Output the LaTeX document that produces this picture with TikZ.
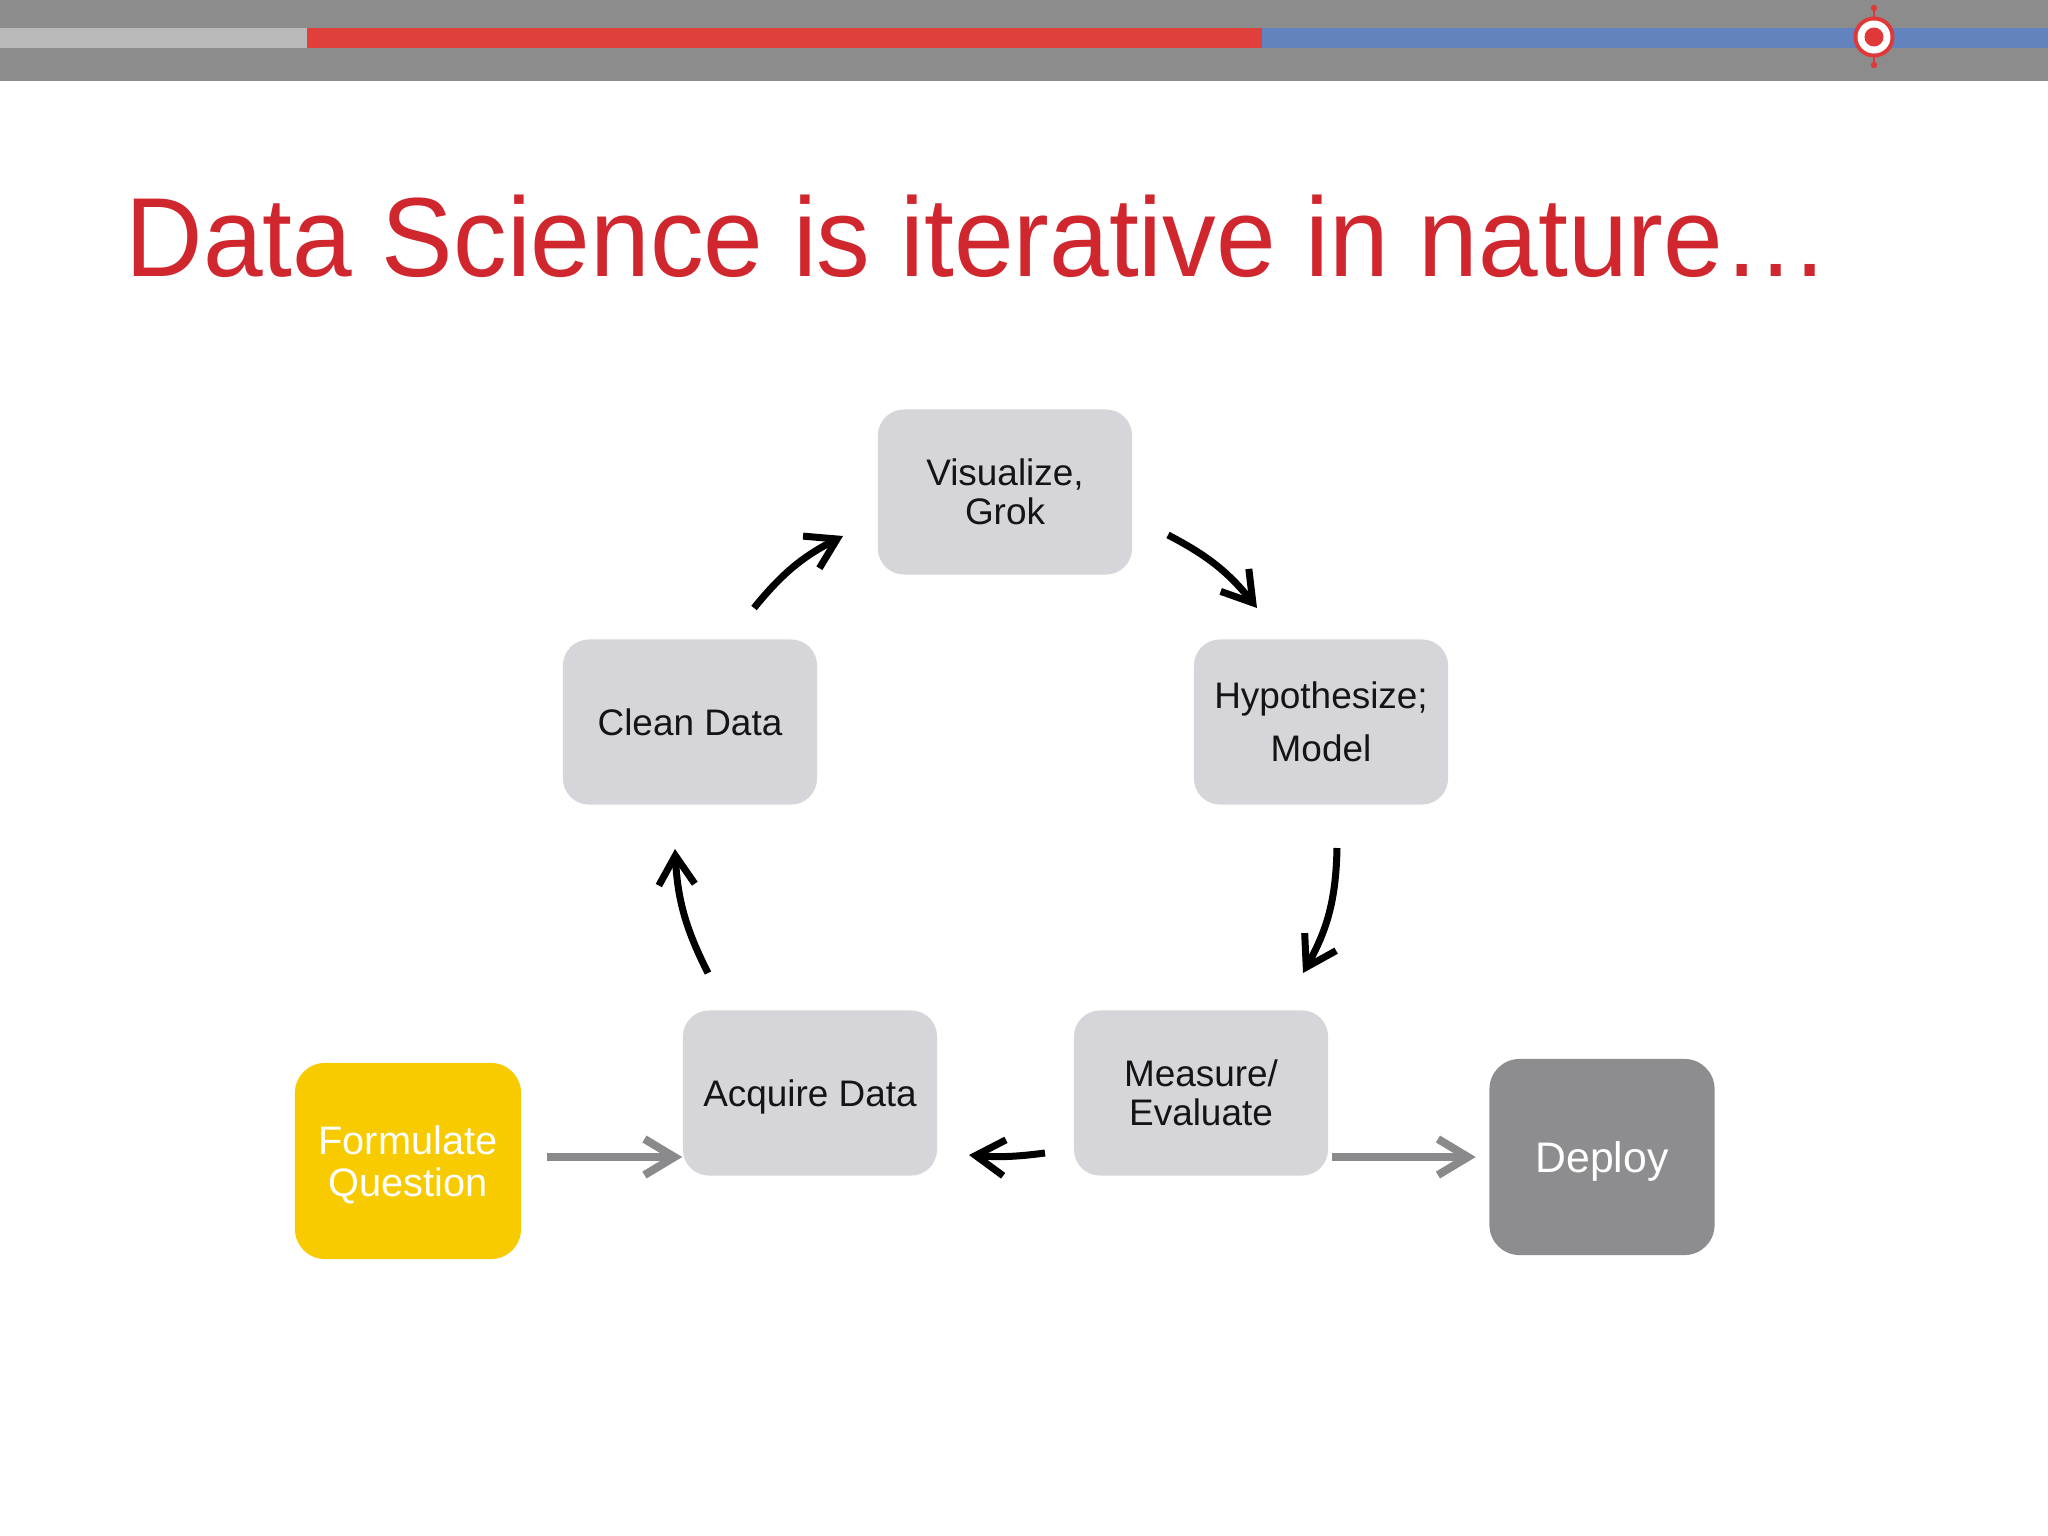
\documentclass[tikz,border=0pt]{standalone}
\usepackage{fontspec}
\setmainfont{Liberation Sans}
\usepackage{graphicx}
\usetikzlibrary{arrows.meta}
\definecolor{bargray}{RGB}{140,140,140}
\definecolor{stripegray}{RGB}{185,185,185}
\definecolor{stripered}{RGB}{224,64,60}
\definecolor{stripeblue}{RGB}{99,131,190}
\definecolor{targetred}{RGB}{224,56,56}
\definecolor{titlered}{RGB}{208,38,46}
\definecolor{boxgray}{RGB}{214,213,217}
\definecolor{yellowq}{RGB}{248,202,0}
\definecolor{deploygray}{RGB}{141,140,143}
\definecolor{arrowgray}{RGB}{138,138,140}
\definecolor{textblack}{RGB}{20,20,20}
\tikzset{
  box/.style={rounded corners=0.26cm, fill=boxgray, minimum width=2.54cm, minimum height=1.65cm,
    align=center, text=textblack, inner sep=0pt, font=\fontsize{10.5}{11.1}\selectfont},
  carrow/.style={line width=0.07cm, draw=black, -{Straight Barb[length=0.29cm,width=0.36cm]}},
  garrow/.style={line width=0.08cm, draw=arrowgray, -{Straight Barb[length=0.3cm,width=0.36cm]}}
}
\begin{document}
\begin{tikzpicture}[x=0.01cm,y=-0.01cm]
\useasboundingbox (0,0) rectangle (2048,1536);
\fill[white] (0,0) rectangle (2048,1536);
% top bar
\fill[bargray] (0,0) rectangle (2048,81);
\fill[stripegray] (0,28) rectangle (307,48);
\fill[stripered] (307,28) rectangle (1262,48);
\fill[stripeblue] (1262,28) rectangle (2048,48);
% target icon
\draw[targetred, line width=0.025cm] (1874,8) -- (1874,65);
\fill[targetred] (1874,8) circle[radius=3.2];
\fill[targetred] (1874,65) circle[radius=3.2];
\fill[targetred] (1874,37) circle[radius=20.5];
\fill[white] (1874,37) circle[radius=16.5];
\fill[targetred] (1874,37) circle[radius=9.5];
% title
\node[anchor=base west, text=titlered, inner sep=0pt] (title) at (125,276)
  {\scalebox{0.953}[1]{\fontsize{32}{38}\selectfont Data Science is iterative in nature…}};
% boxes
\node[box] (vis) at (1005,492) {Visualize,\\Grok};
\node[box] (clean) at (690,722) {Clean Data};
\node[box, font=\fontsize{10.5}{15.1}\selectfont] (hyp) at (1321,722) {Hypothesize;\\Model};
\node[box, text depth=0pt] (acq) at (810,1093) {Acquire Data};
\node[box] (meas) at (1201,1093) {Measure/\\Evaluate};
\node[box, fill=yellowq, text=white, minimum width=2.26cm, minimum height=1.96cm,
  rounded corners=0.3cm, text depth=-0.05cm, font=\fontsize{11.3}{11.95}\selectfont] (form) at (408,1161) {Formulate\\Question};
\node[box, fill=deploygray, text=white, minimum width=2.25cm, minimum height=1.96cm,
  rounded corners=0.3cm, text depth=0pt, font=\fontsize{12.15}{14}\selectfont] (deploy) at (1602,1157) {Deploy};
% cycle arrow ends
\coordinate (a1s) at (754,608);  \coordinate (a1e) at (843,536);
\coordinate (a2s) at (1168,535); \coordinate (a2e) at (1257,608);
\coordinate (a3s) at (1337,848); \coordinate (a3e) at (1303,973);
\coordinate (a4s) at (1045,1153); \coordinate (a4e) at (969,1155);
\coordinate (a5s) at (708,973);  \coordinate (a5e) at (675,849);
\draw[carrow] (a1s) to[bend left=12] (a1e);
\draw[carrow] (a2s) to[bend left=12] (a2e);
\draw[carrow] (a3s) to[bend left=14] (a3e);
\draw[carrow] (a4s) to[bend left=6] (a4e);
\draw[carrow] (a5s) to[bend left=12] (a5e);
% gray arrows
\draw[garrow] ([shift={(25,-4)}]form.east) -- ([shift={(0,64)}]acq.west);
\draw[garrow] ([shift={(3,64)}]meas.east) -- ([shift={(-13,0)}]deploy.west);
\end{tikzpicture}
\end{document}
